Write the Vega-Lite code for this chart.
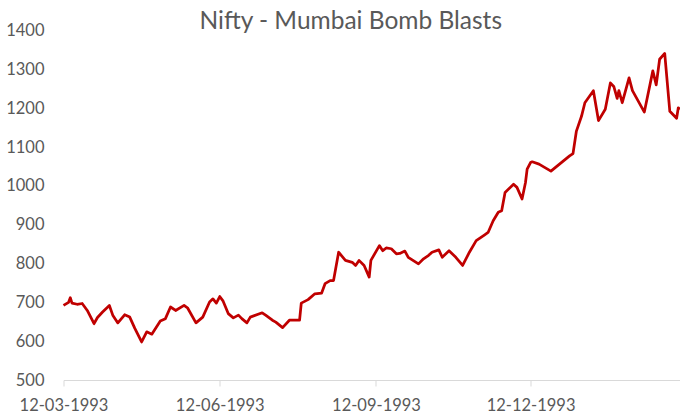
{
  "$schema": "https://vega.github.io/schema/vega-lite/v6.json",
  "width": 616.5,
  "height": 349.5,
  "autosize": {"type": "none"},
  "padding": {"left": 63.5, "top": 30.5, "right": 0, "bottom": 39},
  "background": "white",
  "title": {
    "text": "Nifty - Mumbai Bomb Blasts",
    "font": "Lato",
    "fontSize": 24.5,
    "fontWeight": "normal",
    "color": "#595959",
    "anchor": "middle",
    "baseline": "bottom",
    "dx": -21,
    "dy": 32,
    "offset": -4
  },
  "config": {"view": {"stroke": null}},
  "data": {
    "values": [
      {"date": "1993-03-12", "nifty": 692},
      {"date": "1993-03-15", "nifty": 700},
      {"date": "1993-03-16", "nifty": 712},
      {"date": "1993-03-17", "nifty": 698},
      {"date": "1993-03-20", "nifty": 695},
      {"date": "1993-03-23", "nifty": 697},
      {"date": "1993-03-26", "nifty": 679},
      {"date": "1993-03-30", "nifty": 645},
      {"date": "1993-04-01", "nifty": 661},
      {"date": "1993-04-04", "nifty": 675},
      {"date": "1993-04-08", "nifty": 692},
      {"date": "1993-04-10", "nifty": 667},
      {"date": "1993-04-13", "nifty": 647},
      {"date": "1993-04-17", "nifty": 668},
      {"date": "1993-04-20", "nifty": 662},
      {"date": "1993-04-23", "nifty": 633},
      {"date": "1993-04-27", "nifty": 598},
      {"date": "1993-04-30", "nifty": 624},
      {"date": "1993-05-03", "nifty": 618},
      {"date": "1993-05-08", "nifty": 652},
      {"date": "1993-05-11", "nifty": 658},
      {"date": "1993-05-14", "nifty": 688},
      {"date": "1993-05-17", "nifty": 679},
      {"date": "1993-05-22", "nifty": 692},
      {"date": "1993-05-24", "nifty": 686},
      {"date": "1993-05-29", "nifty": 647},
      {"date": "1993-06-02", "nifty": 662},
      {"date": "1993-06-06", "nifty": 701},
      {"date": "1993-06-08", "nifty": 709},
      {"date": "1993-06-10", "nifty": 698},
      {"date": "1993-06-12", "nifty": 715},
      {"date": "1993-06-14", "nifty": 703},
      {"date": "1993-06-17", "nifty": 671},
      {"date": "1993-06-20", "nifty": 660},
      {"date": "1993-06-23", "nifty": 667},
      {"date": "1993-06-25", "nifty": 658},
      {"date": "1993-06-28", "nifty": 647},
      {"date": "1993-06-30", "nifty": 662},
      {"date": "1993-07-07", "nifty": 673},
      {"date": "1993-07-09", "nifty": 667},
      {"date": "1993-07-13", "nifty": 654},
      {"date": "1993-07-15", "nifty": 649},
      {"date": "1993-07-19", "nifty": 635},
      {"date": "1993-07-23", "nifty": 654},
      {"date": "1993-07-29", "nifty": 654},
      {"date": "1993-07-30", "nifty": 698},
      {"date": "1993-08-03", "nifty": 707},
      {"date": "1993-08-07", "nifty": 722},
      {"date": "1993-08-11", "nifty": 724},
      {"date": "1993-08-13", "nifty": 748},
      {"date": "1993-08-16", "nifty": 756},
      {"date": "1993-08-18", "nifty": 756},
      {"date": "1993-08-21", "nifty": 829},
      {"date": "1993-08-25", "nifty": 808},
      {"date": "1993-08-29", "nifty": 803},
      {"date": "1993-08-31", "nifty": 795},
      {"date": "1993-09-02", "nifty": 808},
      {"date": "1993-09-05", "nifty": 795},
      {"date": "1993-09-08", "nifty": 765},
      {"date": "1993-09-09", "nifty": 808},
      {"date": "1993-09-14", "nifty": 846},
      {"date": "1993-09-16", "nifty": 833},
      {"date": "1993-09-18", "nifty": 840},
      {"date": "1993-09-21", "nifty": 838},
      {"date": "1993-09-24", "nifty": 825},
      {"date": "1993-09-26", "nifty": 826},
      {"date": "1993-09-29", "nifty": 832},
      {"date": "1993-10-01", "nifty": 816},
      {"date": "1993-10-07", "nifty": 799},
      {"date": "1993-10-10", "nifty": 812},
      {"date": "1993-10-13", "nifty": 821},
      {"date": "1993-10-15", "nifty": 829},
      {"date": "1993-10-19", "nifty": 835},
      {"date": "1993-10-21", "nifty": 816},
      {"date": "1993-10-25", "nifty": 833},
      {"date": "1993-10-29", "nifty": 816},
      {"date": "1993-11-02", "nifty": 795},
      {"date": "1993-11-06", "nifty": 829},
      {"date": "1993-11-10", "nifty": 859},
      {"date": "1993-11-15", "nifty": 874},
      {"date": "1993-11-17", "nifty": 880},
      {"date": "1993-11-20", "nifty": 910},
      {"date": "1993-11-23", "nifty": 932},
      {"date": "1993-11-25", "nifty": 936},
      {"date": "1993-11-27", "nifty": 983},
      {"date": "1993-12-02", "nifty": 1004},
      {"date": "1993-12-04", "nifty": 996},
      {"date": "1993-12-07", "nifty": 966},
      {"date": "1993-12-09", "nifty": 1008},
      {"date": "1993-12-10", "nifty": 1043},
      {"date": "1993-12-12", "nifty": 1060},
      {"date": "1993-12-13", "nifty": 1062},
      {"date": "1993-12-17", "nifty": 1056},
      {"date": "1993-12-24", "nifty": 1038},
      {"date": "1994-01-04", "nifty": 1077},
      {"date": "1994-01-06", "nifty": 1083},
      {"date": "1994-01-08", "nifty": 1141},
      {"date": "1994-01-11", "nifty": 1179},
      {"date": "1994-01-13", "nifty": 1214},
      {"date": "1994-01-18", "nifty": 1245},
      {"date": "1994-01-21", "nifty": 1168},
      {"date": "1994-01-25", "nifty": 1197},
      {"date": "1994-01-28", "nifty": 1265},
      {"date": "1994-01-30", "nifty": 1256},
      {"date": "1994-02-01", "nifty": 1225},
      {"date": "1994-02-02", "nifty": 1245},
      {"date": "1994-02-04", "nifty": 1214},
      {"date": "1994-02-08", "nifty": 1278},
      {"date": "1994-02-10", "nifty": 1245},
      {"date": "1994-02-17", "nifty": 1190},
      {"date": "1994-02-22", "nifty": 1296},
      {"date": "1994-02-24", "nifty": 1260},
      {"date": "1994-02-26", "nifty": 1326},
      {"date": "1994-03-01", "nifty": 1341},
      {"date": "1994-03-04", "nifty": 1192},
      {"date": "1994-03-08", "nifty": 1174},
      {"date": "1994-03-09", "nifty": 1201},
      {"date": "1994-03-10", "nifty": 1197}
    ]
  },
  "mark": {"type": "line", "color": "#C00000", "strokeWidth": 2.75, "strokeJoin": "round"},
  "encoding": {
    "x": {
      "field": "date",
      "type": "temporal",
      "scale": {"type": "utc"},
      "axis": {
        "title": null,
        "values": [
          {"year": 1993, "month": 3, "date": 12, "utc": true},
          {"year": 1993, "month": 6, "date": 12, "utc": true},
          {"year": 1993, "month": 9, "date": 12, "utc": true},
          {"year": 1993, "month": 12, "date": 12, "utc": true}
        ],
        "labelExpr": "utcFormat(datum.value, '%d-%m-%Y')",
        "grid": false,
        "domainColor": "#D9D9D9",
        "domainWidth": 1,
        "tickColor": "#D9D9D9",
        "tickSize": 6,
        "labelFont": "Lato",
        "labelFontSize": 16.5,
        "labelColor": "#595959",
        "labelPadding": 11,
        "labelFlush": false,
        "labelOverlap": false
      }
    },
    "y": {
      "field": "nifty",
      "type": "quantitative",
      "scale": {"domain": [500, 1400], "nice": false, "zero": false},
      "axis": {
        "title": null,
        "values": [500, 600, 700, 800, 900, 1000, 1100, 1200, 1300, 1400],
        "format": "d",
        "grid": false,
        "domain": false,
        "ticks": false,
        "tickSize": 0,
        "labelFont": "Lato",
        "labelFontSize": 16.5,
        "labelColor": "#595959",
        "labelPadding": 19.5,
        "labelOverlap": false
      }
    }
  }
}
